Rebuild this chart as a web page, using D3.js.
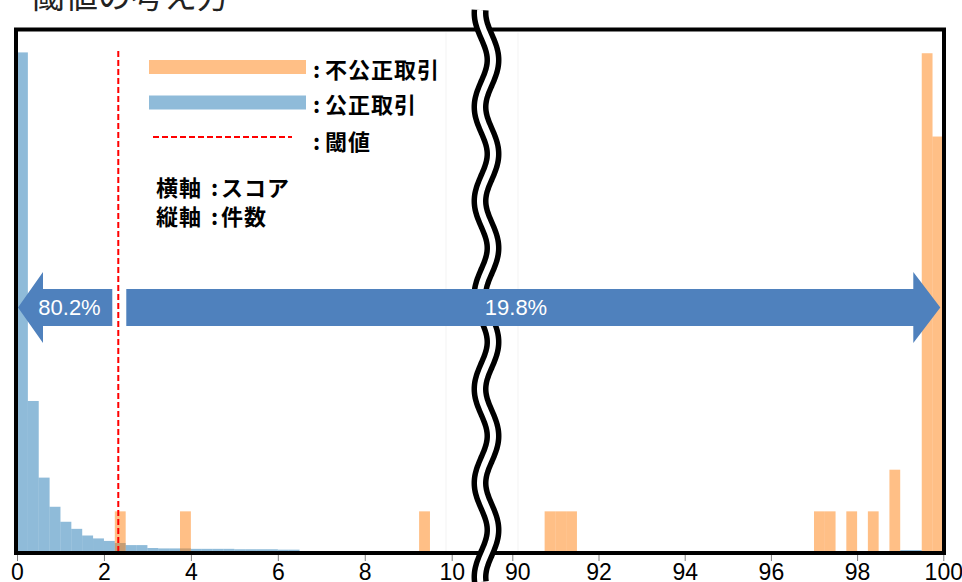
<!DOCTYPE html>
<html>
<head>
<meta charset="utf-8">
<script src="https://cdn.jsdelivr.net/npm/d3@7"></script>
<style>
  html, body { margin: 0; padding: 0; background: #fff; }
  svg { display: block; }
</style>
</head>
<body>
<svg id="chart" width="962" height="582"></svg>
<script>
// ---- Data: score histograms (0.25-wide bins) ----
const binWidth = 0.25;

const fairBinStarts = [0, 0.25, 0.5, 0.75, 1.0, 1.25, 1.5, 1.75, 2.0, 2.25, 2.5, 2.75,
  3.0, 3.25, 3.5, 3.75, 4.0, 4.25, 4.5, 4.75, 5.0, 5.25, 5.5, 5.75, 6.0, 6.25,
  99.0, 99.25];
const fairCounts = [1202, 365, 181, 111, 75, 58, 42, 35, 29, 24, 19, 19,
  12, 11, 11, 11, 10, 10, 10, 10, 9, 9, 9, 9, 8, 8,
  7, 7];

const fraudBinStarts = [2.25, 3.75, 9.25, 90.75, 91.0, 91.25, 97.0, 97.25, 97.75, 98.25, 98.75, 99.5, 99.75];
const fraudCounts    = [1, 1, 1, 1, 1, 1, 1, 1, 1, 1, 2, 12, 10];

const threshold = 2.33;
const shareBelow = 80.2;
const shareAbove = 19.8;

const leftTicks  = [0, 2, 4, 6, 8, 10];
const rightTicks = [90, 92, 94, 96, 98, 100];

const legendItems = [
  { key: "fraud", label: "不公正取引" },
  { key: "fair",  label: "公正取引" },
  { key: "threshold", label: "閾値" }
];
const axisNotes = [
  { axis: "横軸", text: "スコア" },
  { axis: "縦軸", text: "件数" }
];
const title = "閾値の考え方";

// ---- Layout ----
const svg = d3.select("#chart");
const W = 962, H = 582;
const plot = { left: 16, right: 944, top: 29.5, bottom: 553 };

const xLeft  = d3.scaleLinear().domain([0, 10]).range([17, 451.7]);
const xRight = d3.scaleLinear().domain([90, 100]).range([512.3, 943.3]);
const xPos = v => (v < 50 ? xLeft(v) : xRight(v));

const yFair  = d3.scaleLinear().domain([0, 1257]).range([plot.bottom, plot.top]);
const yFraud = d3.scaleLinear().domain([0, 12.57]).range([plot.bottom, plot.top]);

const fairColor = "#1f77b4", fraudColor = "#ff7f0e";
const arrowColor = "#4F81BD";
const cjk = "'Noto Sans CJK JP', 'Noto Sans', sans-serif";
const latin = "'Liberation Sans', Arial, Helvetica, sans-serif";

svg.append("rect").attr("width", W).attr("height", H).attr("fill", "#fff");

// faint panel edges on either side of the axis break
svg.append("g").selectAll("line").data([446, 518]).join("line")
  .attr("x1", d => d).attr("x2", d => d)
  .attr("y1", plot.top + 3).attr("y2", plot.bottom - 2)
  .attr("stroke", "#f3f3f3").attr("stroke-width", 1);

// ---- Histogram bars ----
const fairData = fairBinStarts.map((s, i) => ({ x0: s, x1: s + binWidth, n: fairCounts[i] }));
const fraudData = fraudBinStarts.map((s, i) => ({ x0: s, x1: s + binWidth, n: fraudCounts[i] }));

svg.append("g").selectAll("rect").data(fairData).join("rect")
  .attr("x", d => xPos(d.x0))
  .attr("width", d => xPos(d.x1) - xPos(d.x0))
  .attr("y", d => yFair(d.n))
  .attr("height", d => plot.bottom - yFair(d.n))
  .attr("fill", fairColor).attr("fill-opacity", 0.5);

svg.append("g").selectAll("rect").data(fraudData).join("rect")
  .attr("x", d => xPos(d.x0))
  .attr("width", d => xPos(d.x1) - xPos(d.x0))
  .attr("y", d => yFraud(d.n))
  .attr("height", d => plot.bottom - yFraud(d.n))
  .attr("fill", fraudColor).attr("fill-opacity", 0.5);

// ---- Threshold ----
svg.append("line")
  .attr("x1", xLeft(threshold)).attr("x2", xLeft(threshold))
  .attr("y1", 51).attr("y2", plot.bottom)
  .attr("stroke", "#ff0000").attr("stroke-width", 2)
  .attr("stroke-dasharray", "6,3");

// ---- Axes ----
function styleAxis(g) {
  g.select(".domain").remove();
  g.selectAll(".tick line").attr("stroke", "#808080").attr("stroke-width", 1);
  g.selectAll(".tick text")
    .attr("fill", "#000")
    .style("font-family", latin)
    .style("font-size", "23px");
}
svg.append("g").attr("transform", `translate(0,${plot.bottom})`)
  .call(d3.axisBottom(xLeft).tickValues(leftTicks).tickSize(8).tickPadding(2.5))
  .call(styleAxis);
svg.append("g").attr("transform", `translate(0,${plot.bottom})`)
  .call(d3.axisBottom(xRight).tickValues(rightTicks).tickSize(8).tickPadding(2.5))
  .call(styleAxis)
  .call(g => g.selectAll(".tick text").filter(d => d === 90).attr("dx", 5));

// ---- Frame ----
svg.append("rect")
  .attr("x", plot.left).attr("y", plot.top)
  .attr("width", plot.right - plot.left).attr("height", plot.bottom - plot.top)
  .attr("fill", "none").attr("stroke", "#000").attr("stroke-width", 4);

// ---- Axis break: double wavy line ----
const wavePts = d3.range(10, 583, 2).map(y => [486.5 + 6.5 * Math.cos(2 * Math.PI * (y - 60) / 94), y]);
const wave = d3.line().curve(d3.curveBasis);
svg.append("path").attr("d", wave(wavePts))
  .attr("fill", "none").attr("stroke", "#000").attr("stroke-width", 17);
svg.append("path").attr("d", wave(wavePts))
  .attr("fill", "none").attr("stroke", "#fff").attr("stroke-width", 6);

// ---- Share arrows ----
const cy = 307.5, bodyH = 18.5, headH = 35.5;
const lTip = xLeft(0) + 1, lHead = lTip + 25, lEnd = xLeft(threshold) - 6;
const rStart = xLeft(threshold) + 8, rTip = xRight(100) - 3, rHead = rTip - 27;

svg.append("path")
  .attr("d", d3.line()([
    [lTip, cy], [lHead, cy - headH], [lHead, cy - bodyH], [lEnd, cy - bodyH],
    [lEnd, cy + bodyH], [lHead, cy + bodyH], [lHead, cy + headH]
  ]) + "Z")
  .attr("fill", arrowColor);
svg.append("path")
  .attr("d", d3.line()([
    [rStart, cy - bodyH], [rHead, cy - bodyH], [rHead, cy - headH], [rTip, cy],
    [rHead, cy + headH], [rHead, cy + bodyH], [rStart, cy + bodyH]
  ]) + "Z")
  .attr("fill", arrowColor);

svg.append("text").attr("x", 69.5).attr("y", cy).attr("dy", "0.36em")
  .attr("text-anchor", "middle").attr("fill", "#fff")
  .style("font-family", latin).style("font-size", "22px")
  .text(`${shareBelow}%`);
svg.append("text").attr("x", 516).attr("y", cy).attr("dy", "0.36em")
  .attr("text-anchor", "middle").attr("fill", "#fff")
  .style("font-family", latin).style("font-size", "22px")
  .text(`${shareAbove}%`);

// ---- Legend ----
const legend = svg.append("g");
const swatchY = [67, 102.5, 137];   // swatch centres
const labelY  = [70, 105, 141.5];   // label centres
legendItems.forEach((item, i) => {
  if (item.key === "threshold") {
    legend.append("line").attr("x1", 153).attr("x2", 292).attr("y1", swatchY[i]).attr("y2", swatchY[i])
      .attr("stroke", "#ff0000").attr("stroke-width", 2).attr("stroke-dasharray", "6,3");
  } else {
    legend.append("rect").attr("x", 149).attr("y", swatchY[i] - 7).attr("width", 157).attr("height", 14)
      .attr("fill", item.key === "fraud" ? fraudColor : fairColor).attr("fill-opacity", 0.5);
  }
  const base = labelY[i] + 8.4;
  legend.append("text").attr("x", 313).attr("y", base)
    .style("font-family", cjk).style("font-weight", 700).style("font-size", "22px")
    .text(":");
  legend.append("text").attr("x", 325).attr("y", base)
    .style("font-family", cjk).style("font-weight", 700).style("font-size", "22px")
    .style("letter-spacing", "1px")
    .text(item.label);
});

const noteY = [188, 217];
axisNotes.forEach((n, i) => {
  const base = noteY[i] + 8.4;
  const t = legend.append("g")
    .style("font-family", cjk).style("font-weight", 700).style("font-size", "22px");
  t.append("text").attr("x", 156).attr("y", base).style("letter-spacing", "1px").text(n.axis);
  t.append("text").attr("x", 211).attr("y", base).text(":");
  t.append("text").attr("x", 221).attr("y", base).style("letter-spacing", "1px").text(n.text);
});

// ---- Title ----
svg.append("text").attr("x", 32).attr("y", 8)
  .attr("fill", "#222")
  .style("font-family", cjk).style("font-size", "33px")
  .text(title);
</script>
</body>
</html>
